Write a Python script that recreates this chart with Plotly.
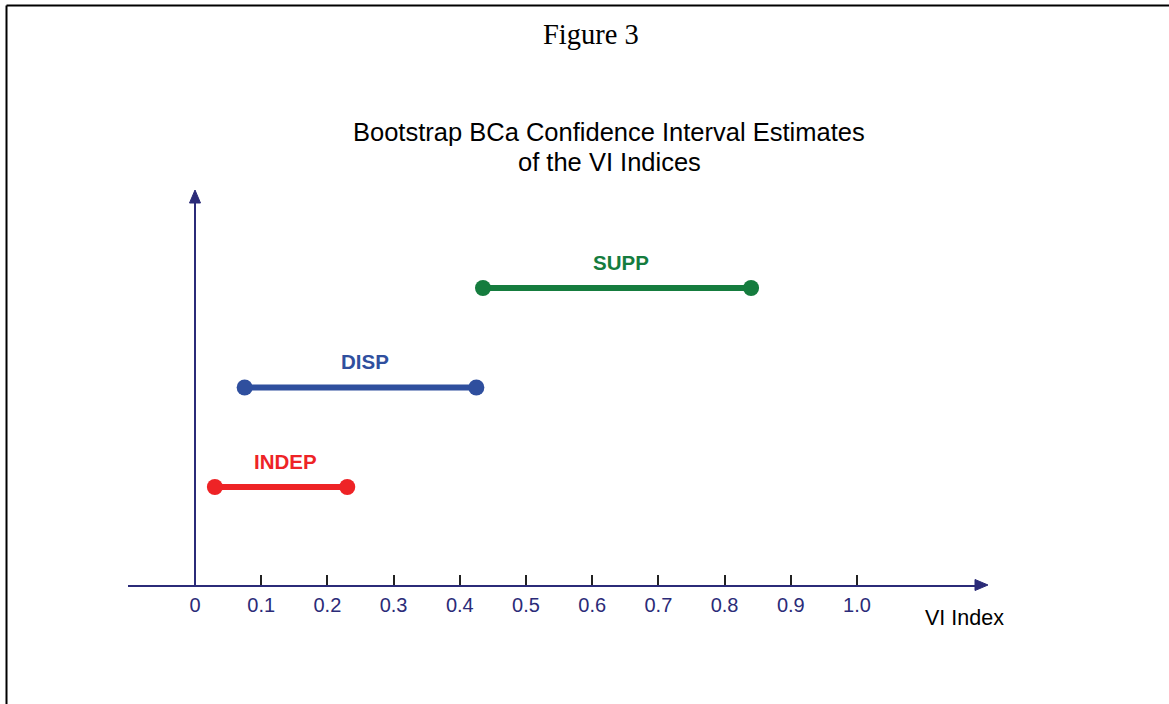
import plotly.graph_objects as go

# ---- data ----
categories = ["INDEP", "DISP", "SUPP"]
lower = [0.03, 0.075, 0.435]
upper = [0.23, 0.425, 0.84]
levels = [1, 2, 3]
colors = ["#EE2326", "#2F4F9E", "#157C3E"]
tick_vals = [0, 0.1, 0.2, 0.3, 0.4, 0.5, 0.6, 0.7, 0.8, 0.9, 1.0]
tick_text = ["0", "0.1", "0.2", "0.3", "0.4", "0.5", "0.6", "0.7", "0.8", "0.9", "1.0"]
title_lines = ["Bootstrap BCa Confidence Interval Estimates", "of the VI Indices"]

W, H = 1169, 704
NAVY = "#2B2B78"
SANS = "Liberation Sans, Arial, sans-serif"

# pixel geometry
x0_px, px_per_unit = 195, 662
ax_y_px = 585
lvl0_px, px_per_lvl = 586.5, 99.5
xl_px, xr_px = 128, 978
ytop_px = 200

xr = [(xl_px - x0_px) / px_per_unit, (xr_px - x0_px) / px_per_unit]
yr = [(lvl0_px - ax_y_px) / px_per_lvl, (lvl0_px - ytop_px) / px_per_lvl]

fig = go.Figure()
for cat, lo, hi, lv, col in zip(categories, lower, upper, levels, colors):
    fig.add_trace(go.Scatter(
        x=[lo, hi], y=[lv, lv], mode="lines+markers",
        line=dict(color=col, width=6),
        marker=dict(color=col, size=16),
        showlegend=False, hoverinfo="skip", cliponaxis=False,
    ))
    fig.add_annotation(x=(lo + hi) / 2, y=lv, text=f"<b>{cat}</b>", showarrow=False,
                       xanchor="center", yanchor="middle", xshift=4,
                       yshift=26, font=dict(family=SANS, size=20.5, color=col))

def px(x):
    return x / W

def py(y):
    return 1 - y / H

shapes = [
    # page border (left + top)
    dict(type="line", xref="paper", yref="paper", x0=px(6.5), x1=px(6.5), y0=py(5.5), y1=py(704),
         line=dict(color="black", width=2)),
    dict(type="line", xref="paper", yref="paper", x0=px(6.5), x1=px(1169), y0=py(5.5), y1=py(5.5),
         line=dict(color="black", width=2)),
    # y axis line
    dict(type="line", xref="paper", yref="paper", x0=px(195), x1=px(195), y0=py(ax_y_px), y1=py(200),
         line=dict(color=NAVY, width=2)),
    # y arrow head
    dict(type="path", xref="paper", yref="paper",
         path=f"M {px(189.5)} {py(203)} L {px(195)} {py(190)} L {px(200.5)} {py(203)} Z",
         fillcolor=NAVY, line=dict(color=NAVY, width=1)),
    # x arrow head
    dict(type="path", xref="paper", yref="paper",
         path=f"M {px(975)} {py(579.5)} L {px(988)} {py(585)} L {px(975)} {py(590.5)} Z",
         fillcolor=NAVY, line=dict(color=NAVY, width=1)),
]

fig.update_layout(
    width=W, height=H,
    margin=dict(l=0, r=0, t=0, b=0),
    paper_bgcolor="white", plot_bgcolor="white",
    shapes=shapes,
    xaxis=dict(domain=[px(xl_px), px(xr_px)], range=xr, showgrid=False, zeroline=False,
               showline=True, linecolor=NAVY, linewidth=2,
               ticks="inside", ticklen=10, tickwidth=1.5, tickcolor="#222222",
               tickvals=tick_vals, ticktext=tick_text, ticklabelstandoff=1,
               tickfont=dict(family=SANS, size=20, color=NAVY)),
    yaxis=dict(domain=[py(ax_y_px), py(ytop_px)], range=yr, showgrid=False, zeroline=False,
               showline=False, showticklabels=False, ticks=""),
)

fig.add_annotation(xref="paper", yref="paper", x=px(590.5), y=py(35), text="Figure 3",
                   xanchor="center", yanchor="middle", showarrow=False,
                   font=dict(family="Liberation Serif, Times New Roman, serif", size=28.5, color="black"))
for line_text, ypx in zip(title_lines, [132, 162]):
    fig.add_annotation(xref="paper", yref="paper", x=px(609), y=py(ypx), text=line_text,
                       xanchor="center", yanchor="middle", showarrow=False,
                       font=dict(family=SANS, size=25.5, color="black"))
fig.add_annotation(xref="paper", yref="paper", x=px(964), y=py(618), text="VI Index",
                   xanchor="center", yanchor="middle", showarrow=False,
                   font=dict(family=SANS, size=21.5, color="black"))

fig.write_html("out.html", config={"displayModeBar": False},
               post_script="document.body.style.margin='0';")
